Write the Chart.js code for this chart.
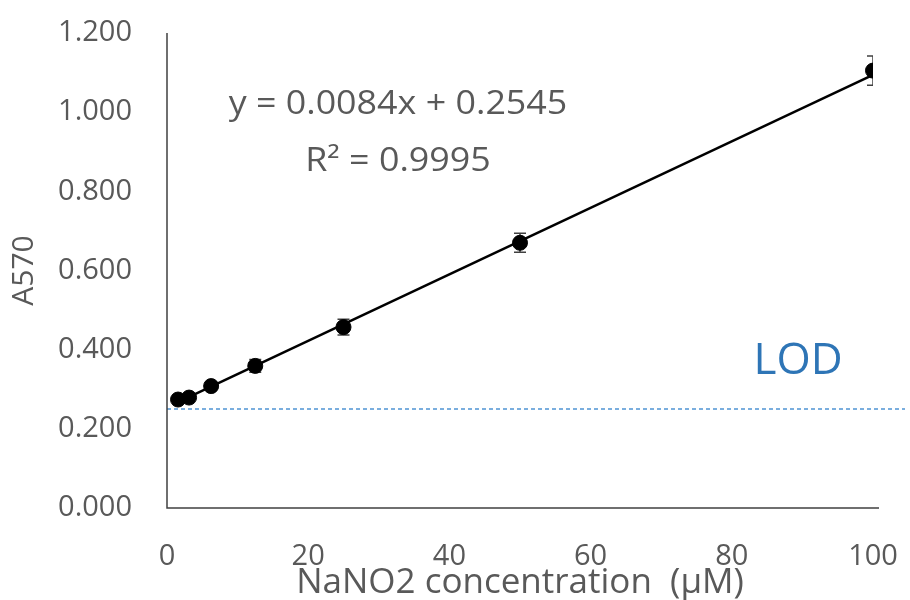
<!DOCTYPE html>
<html>
<head>
<meta charset="utf-8">
<script src="https://cdn.jsdelivr.net/npm/chart.js@4"></script>
<style>
  html, body { margin: 0; padding: 0; background: #fff; }
  #wrap { width: 910px; height: 600px; }
</style>
</head>
<body>
<div id="wrap"><canvas id="calib"></canvas></div>
<script>
// NaNO2 standard curve (Griess, A570)
const conc = [1.5625, 3.125, 6.25, 12.5, 25, 50, 100];
const a570 = [0.274, 0.279, 0.308, 0.359, 0.457, 0.670, 1.105];
const sd = [0.008, 0.008, 0.010, 0.016, 0.020, 0.024, 0.037];

// linear fit endpoints, y = 0.0084x + 0.2545
const fitX = [1.5625, 100];
const fitY = [0.2676, 1.0945];

const lod = 0.25;
const yTicks = [0, 0.2, 0.4, 0.6, 0.8, 1.0, 1.2];
const xTicks = [0, 20, 40, 60, 80, 100];

const grey = '#595959';
const font = 'Open Sans';

// error bars under the markers, clipped to the plot like the rest
const errorBars = {
  id: 'errorBars',
  beforeDatasetsDraw(chart) {
    const { ctx, chartArea: a, scales: { x, y } } = chart;
    ctx.save();
    ctx.beginPath();
    ctx.rect(a.left, a.top - 20, a.right - a.left, a.bottom - a.top + 20);
    ctx.clip();
    ctx.strokeStyle = '#404040';
    ctx.lineWidth = 1.5;
    conc.forEach((c, i) => {
      const px = x.getPixelForValue(c);
      const top = y.getPixelForValue(a570[i] + sd[i]);
      const bot = y.getPixelForValue(a570[i] - sd[i]);
      ctx.beginPath();
      ctx.moveTo(px, top); ctx.lineTo(px, bot);
      ctx.moveTo(px - 6, top); ctx.lineTo(px + 6, top);
      ctx.moveTo(px - 6, bot); ctx.lineTo(px + 6, bot);
      ctx.stroke();
    });
    ctx.restore();
  }
};

function wideText(ctx, text, cx, cy, sx) {
  ctx.save();
  ctx.translate(cx, cy);
  ctx.scale(sx, 1);
  ctx.fillText(text, 0, 0);
  ctx.restore();
}

// axis lines, LOD line and the text notes
const extras = {
  id: 'extras',
  beforeDatasetsDraw(chart) {
    const { ctx, chartArea: a, scales: { y } } = chart;
    ctx.save();
    ctx.strokeStyle = '#4F94D4';
    ctx.lineWidth = 1.4;
    ctx.setLineDash([4, 3]);
    const ly = Math.round(y.getPixelForValue(lod));
    ctx.beginPath();
    ctx.moveTo(a.left, ly);
    ctx.lineTo(a.right + 32, ly);
    ctx.stroke();
    ctx.setLineDash([]);
    ctx.strokeStyle = '#404040';
    ctx.lineWidth = 1.5;
    ctx.beginPath();
    ctx.moveTo(a.left, a.top);
    ctx.lineTo(a.left, a.bottom);
    ctx.lineTo(a.right + 6, a.bottom);
    ctx.stroke();
    ctx.restore();
  },
  afterDraw(chart) {
    const { ctx } = chart;
    ctx.save();
    ctx.fillStyle = grey;
    ctx.textAlign = 'center';
    ctx.textBaseline = 'middle';
    ctx.font = `32px "${font}"`;
    wideText(ctx, 'y = 0.0084x + 0.2545', 398, 105, 1.12);
    wideText(ctx, 'R² = 0.9995', 398, 162, 1.12);
    ctx.fillStyle = '#2E75B6';
    ctx.font = `44px "${font}"`;
    ctx.fillText('LOD', 798, 361);
    ctx.restore();
  }
};

new Chart(document.getElementById('calib'), {
  type: 'scatter',
  data: {
    datasets: [
      {
        label: 'A570',
        data: conc.map((c, i) => ({ x: c, y: a570[i] })),
        backgroundColor: '#000',
        borderColor: '#000',
        pointRadius: 7.5,
        pointHoverRadius: 7.5,
        order: 0
      },
      {
        label: 'fit',
        type: 'line',
        data: fitX.map((c, i) => ({ x: c, y: fitY[i] })),
        borderColor: '#000',
        borderWidth: 2.5,
        pointRadius: 0,
        fill: false,
        order: 1
      }
    ]
  },
  options: {
    responsive: true,
    maintainAspectRatio: false,
    animation: false,
    layout: { padding: { top: 33, right: 37, left: 6, bottom: 0 } },
    plugins: { legend: { display: false }, tooltip: { enabled: false } },
    scales: {
      x: {
        type: 'linear',
        min: 0,
        max: 100,
        afterBuildTicks: s => { s.ticks = xTicks.map(v => ({ value: v })); },
        afterFit: s => { s.height = 92; s.paddingLeft = 0; s.paddingRight = 0; },
        grid: { display: false, drawTicks: false },
        border: { display: false },
        ticks: { color: grey, font: { family: font, size: 29 }, padding: 31 },
        title: {
          display: true,
          text: 'NaNO2 concentration  (µM)',
          color: grey,
          font: { family: font, size: 35 },
          padding: { top: 0, bottom: -4 }
        }
      },
      y: {
        min: 0,
        max: 1.2,
        afterBuildTicks: s => { s.ticks = yTicks.map(v => ({ value: v })); },
        afterFit: s => { s.width = 161; s.paddingTop = 0; s.paddingBottom = 0; },
        grid: { display: false, drawTicks: false },
        border: { display: false },
        ticks: {
          color: grey,
          font: { family: font, size: 29 },
          padding: 35,
          callback: v => v.toFixed(3)
        },
        title: {
          display: true,
          text: 'A570',
          color: grey,
          font: { family: font, size: 30 },
          padding: { top: 0, bottom: 0 }
        }
      }
    }
  },
  plugins: [errorBars, extras]
});
</script>
</body>
</html>
